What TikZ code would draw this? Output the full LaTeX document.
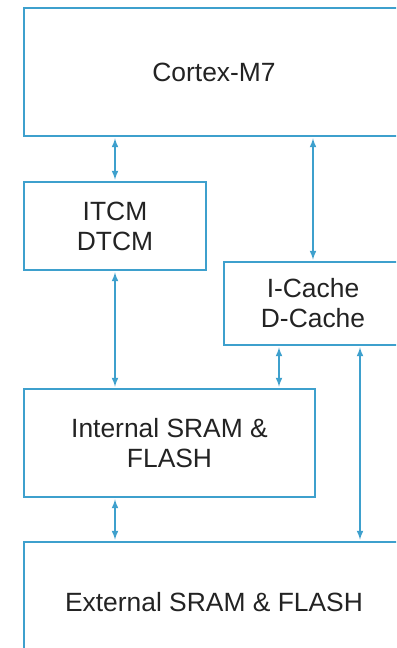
\documentclass[tikz,border=0pt]{standalone}
\usepackage{fontspec}
\setmainfont{Liberation Sans}
\definecolor{busblue}{RGB}{62,160,205}
\definecolor{textgray}{RGB}{35,35,35}
\begin{document}
\begin{tikzpicture}[x=1bp, y=-1bp, line width=2.8bp, >=latex,
  font=\fontsize{26.5}{30}\selectfont]
  \useasboundingbox (0,0) rectangle (396,648);
  \clip (0,0) rectangle (396,648);
  \tikzset{block/.style={draw=busblue, fill=white, text=textgray, align=center, inner sep=0pt},
           bus/.style={<->, draw=busblue, line width=2bp, shorten <=1bp, shorten >=1bp}}
  \node[block, minimum width=380bp, minimum height=128bp] (cpu) at (214,72) {Cortex-M7};
  \node[block, minimum width=182bp, minimum height=88bp] (tcm) at (115,226) {ITCM\\DTCM};
  \node[block, minimum width=178bp, minimum height=83bp] (cache) at (313,303.5) {I-Cache\\D-Cache};
  \node[block, minimum width=291bp, minimum height=108bp] (internal) at (169.5,443) {Internal SRAM \&\\FLASH};
  \node[block, minimum width=380bp, minimum height=120bp] (external) at (214,602) {External SRAM \& FLASH};
  \draw[bus] (tcm.north) -- (tcm.north |- cpu.south);
  \draw[bus] (cache.north) -- (cache.north |- cpu.south);
  \draw[bus] (tcm.south) -- (tcm.south |- internal.north);
  \draw[bus] ([xshift=-34bp]cache.south) -- ([xshift=-34bp]cache.south |- internal.north);
  \draw[bus] ([xshift=47bp]cache.south) -- ([xshift=47bp]cache.south |- external.north);
  \draw[bus] (tcm.south |- internal.south) -- (tcm.south |- external.north);
\end{tikzpicture}
\end{document}
